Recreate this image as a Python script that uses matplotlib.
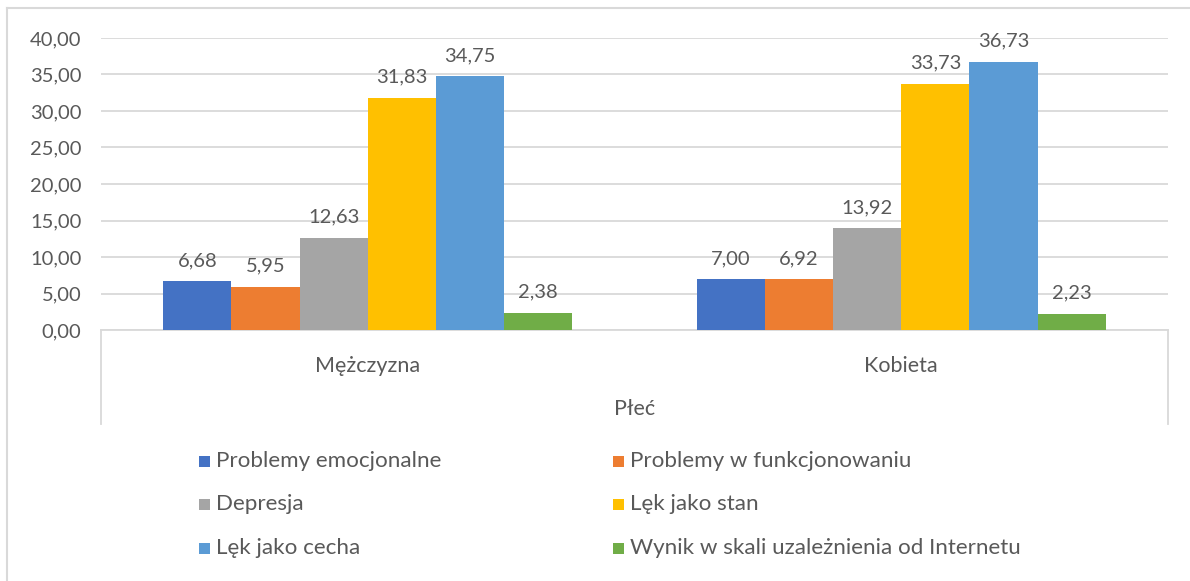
import matplotlib
matplotlib.use("Agg")
import matplotlib.pyplot as plt
from matplotlib.lines import Line2D
from matplotlib.patches import Rectangle
import numpy as np

plt.rcParams['font.family'] = ['Lato', 'DejaVu Sans']

# data
categories = ['Mężczyzna', 'Kobieta']
series_names = ['Problemy emocjonalne', 'Problemy w funkcjonowaniu', 'Depresja',
                'Lęk jako stan', 'Lęk jako cecha', 'Wynik w skali uzależnienia od Internetu']
values = [
    [6.68, 7.00],
    [5.95, 6.92],
    [12.63, 13.92],
    [31.83, 33.73],
    [34.75, 36.73],
    [2.38, 2.23],
]
colors = ['#4472C4', '#ED7D31', '#A5A5A5', '#FFC000', '#5B9BD5', '#70AD47']
y_ticks = [0, 5, 10, 15, 20, 25, 30, 35, 40]
axis_title = 'Płeć'

W, H = 1190, 581
txt = '#595959'
grid = '#D9D9D9'
fs = 14.5      # numbers
fs_cat = 15.5  # category labels
fs_leg = 16.1  # legend

fig = plt.figure(figsize=(W / 100, H / 100), dpi=100)

def fx(px):
    return px / W

def fy(py):
    return 1 - py / H

ax_l, ax_r, ax_top, ax_bot = 101, 1168, 38, 330
ax = fig.add_axes([fx(ax_l), fy(ax_bot), fx(ax_r - ax_l), fy(ax_top) - fy(ax_bot)])

n = len(series_names)
bw = 0.767 / n
x = np.arange(len(categories))
for i, (name, vals, c) in enumerate(zip(series_names, values, colors)):
    pos = x - 0.767 / 2 + bw * (i + 0.5)
    bars = ax.bar(pos, vals, width=bw, color=c, label=name, zorder=3)
    for b, v in zip(bars, vals):
        ax.annotate(f'{v:.2f}'.replace('.', ','), (b.get_x() + b.get_width() / 2, v),
                    xytext=(0, 12), textcoords='offset pixels', ha='center', va='bottom',
                    fontsize=fs, color=txt)

ax.set_xlim(-0.5, len(categories) - 0.5)
ax.set_ylim(0, 40)
ax.set_yticks(y_ticks)
ax.set_yticklabels([f'{t:.2f}'.replace('.', ',') for t in y_ticks])
ax.tick_params(axis='y', length=0, pad=14, labelsize=fs, labelcolor=txt)
ax.set_xticks(x)
ax.set_xticklabels(categories)
ax.tick_params(axis='x', length=0, pad=19, labelsize=fs_cat, labelcolor=txt)
ax.yaxis.grid(True, color=grid, linewidth=1.3, zorder=0)
for s in ['top', 'right', 'left']:
    ax.spines[s].set_visible(False)
ax.spines['bottom'].set_color(grid)
ax.spines['bottom'].set_linewidth(1.3)

# category table lines
for xp in (ax_l, ax_r):
    fig.add_artist(Line2D([fx(xp), fx(xp)], [fy(ax_bot), fy(424)], color=grid, linewidth=1.3))
fig.text(fx((ax_l + ax_r) / 2), fy(409), axis_title, ha='center', va='center', fontsize=fs_cat, color=txt)

# chart border (top and left visible)
fig.add_artist(Line2D([fx(7), fx(7)], [fy(8), 0], color=grid, linewidth=1.5))
fig.add_artist(Line2D([fx(7), 1], [fy(8), fy(8)], color=grid, linewidth=1.5))

# legend
col_x = [199, 613]
row_y = [461, 504, 548]
sq = 11
for i, (name, c) in enumerate(zip(series_names, colors)):
    cx = col_x[i % 2]
    cy = row_y[i // 2]
    fig.add_artist(Rectangle((fx(cx), fy(cy + sq / 2)), fx(sq), fy(cy - sq / 2) - fy(cy + sq / 2),
                             facecolor=c, edgecolor='none'))
    fig.text(fx(cx + sq + 6), fy(cy), name, ha='left', va='center', fontsize=fs_leg, color=txt)

fig.savefig('out.png', dpi=100)
